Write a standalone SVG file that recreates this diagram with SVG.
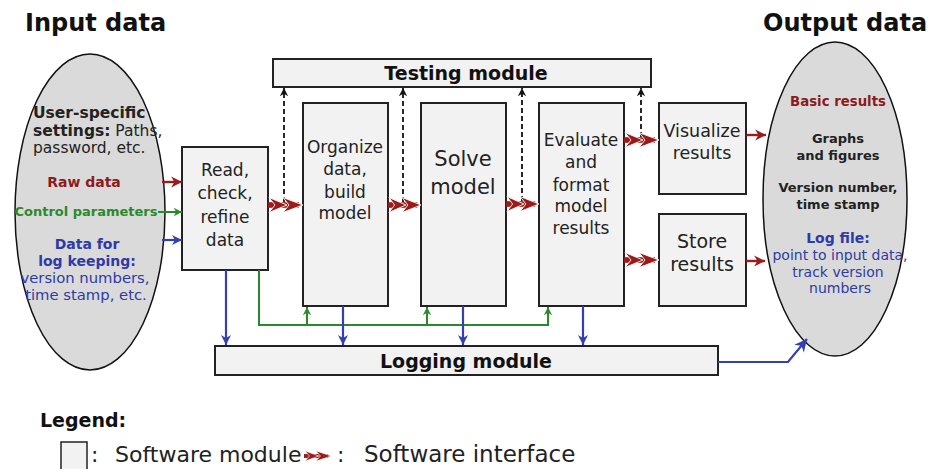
<svg xmlns="http://www.w3.org/2000/svg" width="931" height="469" viewBox="0 0 931 469">
<style>
text{font-family:"DejaVu Sans","Liberation Sans",sans-serif;fill:#222}
.t{font-weight:bold;font-size:24px;fill:#111}
.b{font-weight:bold}
.m{font-size:17px;text-anchor:middle}
.e{font-size:13px;text-anchor:middle}
.n{font-size:14px;text-anchor:middle}
.box{fill:#f2f2f2;stroke:#222;stroke-width:2}
.ell{fill:#dadada;stroke:#111;stroke-width:1.5}
.bl{stroke:#3340b0;stroke-width:2.2;fill:none}
.gl{stroke:#2a8a2a;stroke-width:2;fill:none}
.rl{stroke:#9b1a1a;stroke-width:2.4;fill:none}
.dl{stroke:#111;stroke-width:1.8;stroke-dasharray:5 3;fill:none}
</style>
<defs>
<marker id="aB" viewBox="-11 -6 12 12" refX="0" refY="0" markerWidth="12" markerHeight="12" markerUnits="userSpaceOnUse" orient="auto"><path d="M0,0 L-10,-5 L-7,0 L-10,5 Z" fill="#3340b0"/></marker>
<marker id="aB2" viewBox="-11 -6 12 12" refX="0" refY="0" markerWidth="15" markerHeight="15" markerUnits="userSpaceOnUse" orient="auto"><path d="M0,0 L-10,-5 L-7,0 L-10,5 Z" fill="#3340b0"/></marker>
<marker id="aG" viewBox="-11 -6 12 12" refX="0" refY="0" markerWidth="10" markerHeight="10" markerUnits="userSpaceOnUse" orient="auto"><path d="M0,0 L-10,-5 L-7,0 L-10,5 Z" fill="#2a8a2a"/></marker>
<marker id="aR" viewBox="-11 -6 12 12" refX="0" refY="0" markerWidth="13" markerHeight="13" markerUnits="userSpaceOnUse" orient="auto"><path d="M0,0 L-10,-5 L-7,0 L-10,5 Z" fill="#9b1a1a"/></marker>
<marker id="aK" viewBox="-11 -6 12 12" refX="0" refY="0" markerWidth="10" markerHeight="10" markerUnits="userSpaceOnUse" orient="auto"><path d="M0,0 L-10,-5 L-7,0 L-10,5 Z" fill="#111"/></marker>
<g id="iface">
<rect x="0" y="-2.8" width="31" height="5.6" fill="#9b1a1a"/>
<path d="M1,-7.5 L19,0 L1,7.5 L7,0 Z" fill="#9b1a1a" stroke="#fff" stroke-width="0.9"/>
<path d="M15,-7.5 L35,0 L15,7.5 L21,0 Z" fill="#9b1a1a" stroke="#fff" stroke-width="0.9"/>
</g>
</defs>
<rect width="931" height="469" fill="#fff"/>

<text class="t" x="25" y="31">Input data</text>
<text class="t" x="763" y="31">Output data</text>

<g id="input-data">
<ellipse class="ell" cx="90" cy="212" rx="75" ry="158"/>
<text x="33" y="118" font-size="15.5" class="b">User-specific</text>
<text x="33" y="136" font-size="15.5"><tspan class="b">settings:</tspan> Paths,</text>
<text x="33" y="153" font-size="15.5">password, etc.</text>
<text class="n b" x="84" y="187" style="fill:#8e1b1b">Raw data</text>
<text class="e b" x="86" y="216" style="fill:#2a8a2a">Control parameters</text>
<text class="n b" x="87" y="249" style="fill:#2e3aa5">Data for</text>
<text class="n b" x="87" y="266" style="fill:#2e3aa5">log keeping:</text>
<text class="n" x="85" y="283" style="fill:#2e3aa5;font-size:14.8px">version numbers,</text>
<text class="n" x="86" y="300" style="fill:#2e3aa5;font-size:14.8px">time stamp, etc.</text>
</g>

<g id="output-data">
<ellipse class="ell" cx="835" cy="199" rx="72" ry="157"/>
<text class="e b" x="838" y="106" style="fill:#8e1b1b;font-size:13.3px">Basic results</text>
<text class="e b" x="838" y="143">Graphs</text>
<text class="e b" x="838" y="160">and figures</text>
<text class="e b" x="838" y="192">Version number,</text>
<text class="e b" x="838" y="209">time stamp</text>
<text class="e b" x="838" y="243" style="fill:#2e3aa5;font-size:14px">Log file:</text>
<text class="n" x="840" y="260" style="fill:#2e3aa5">point to input data,</text>
<text class="n" x="838" y="277" style="fill:#2e3aa5">track version</text>
<text class="n" x="840" y="293" style="fill:#2e3aa5">numbers</text>
</g>

<g id="testing-module">
<rect class="box" x="273" y="59" width="378" height="28"/>
<text x="466" y="80" font-size="19" class="b" text-anchor="middle" style="fill:#111">Testing module</text>
</g>

<g id="read">
<rect class="box" x="182" y="147" width="86" height="123"/>
<text class="m" x="225" y="176">Read,</text>
<text class="m" x="225" y="199">check,</text>
<text class="m" x="225" y="223">refine</text>
<text class="m" x="225" y="246">data</text>
</g>

<g id="organize">
<rect class="box" x="303" y="103" width="85" height="203"/>
<text class="m" x="345" y="153">Organize</text>
<text class="m" x="345" y="175">data,</text>
<text class="m" x="345" y="198">build</text>
<text class="m" x="345" y="219">model</text>
</g>

<g id="solve">
<rect class="box" x="421" y="103" width="85" height="203"/>
<text class="m" x="463" y="166" style="font-size:21px">Solve</text>
<text class="m" x="463" y="194" style="font-size:21px">model</text>
</g>

<g id="evaluate">
<rect class="box" x="539" y="103" width="85" height="203"/>
<text class="m" x="581" y="146">Evaluate</text>
<text class="m" x="581" y="168">and</text>
<text class="m" x="581" y="191">format</text>
<text class="m" x="581" y="212">model</text>
<text class="m" x="581" y="234">results</text>
</g>

<g id="visualize">
<rect class="box" x="659" y="103" width="87" height="91"/>
<text class="m" x="702" y="137" style="font-size:17.5px">Visualize</text>
<text class="m" x="702" y="159" style="font-size:17.5px">results</text>
</g>

<g id="store">
<rect class="box" x="659" y="214" width="87" height="92"/>
<text class="m" x="702" y="248" style="font-size:19px">Store</text>
<text class="m" x="702" y="271" style="font-size:19px">results</text>
</g>

<g id="logging-module">
<rect class="box" x="215" y="346" width="503" height="29"/>
<text x="466" y="368" font-size="19" class="b" text-anchor="middle" style="fill:#111">Logging module</text>
</g>

<g id="connectors">
<line class="rl" x1="162" y1="182" x2="182" y2="182" marker-end="url(#aR)"/>
<line class="gl" x1="158" y1="212" x2="182" y2="212" marker-end="url(#aG)"/>
<line class="bl" x1="162" y1="240" x2="182" y2="240" marker-end="url(#aB)"/>

<line class="dl" x1="284" y1="202" x2="284" y2="88" marker-end="url(#aK)"/>
<line class="dl" x1="403" y1="202" x2="403" y2="88" marker-end="url(#aK)"/>
<line class="dl" x1="522" y1="201" x2="522" y2="88" marker-end="url(#aK)"/>
<line class="dl" x1="641" y1="137" x2="641" y2="88" marker-end="url(#aK)"/>

<use href="#iface" transform="translate(268,205)"/>
<use href="#iface" transform="translate(388,205) scale(0.943,1)"/>
<use href="#iface" transform="translate(506,204) scale(0.943,1)"/>
<use href="#iface" transform="translate(624,140)"/>
<use href="#iface" transform="translate(624,260)"/>

<line class="rl" x1="746" y1="135" x2="766" y2="135" marker-end="url(#aR)"/>
<line class="rl" x1="746" y1="261" x2="765" y2="261" marker-end="url(#aR)"/>

<path class="gl" d="M259,270 V325 H548 V307" marker-end="url(#aG)"/>
<line class="gl" x1="307" y1="325" x2="307" y2="307" marker-end="url(#aG)"/>
<line class="gl" x1="427" y1="325" x2="427" y2="307" marker-end="url(#aG)"/>

<line class="bl" x1="226" y1="270" x2="226" y2="345" marker-end="url(#aB)"/>
<line class="bl" x1="343" y1="306" x2="343" y2="345" marker-end="url(#aB)"/>
<line class="bl" x1="463" y1="306" x2="463" y2="345" marker-end="url(#aB)"/>
<line class="bl" x1="583" y1="306" x2="583" y2="345" marker-end="url(#aB)"/>

<path class="bl" d="M718,362 H788 L807,339" marker-end="url(#aB2)"/>
</g>

<g id="legend">
<text x="40" y="427" font-size="19" class="b" style="fill:#111">Legend:</text>
<rect x="61" y="442" width="26" height="28" fill="#f2f2f2" stroke="#222" stroke-width="1.5"/>
<text x="91" y="462" font-size="22">:</text>
<text x="115" y="462" font-size="22">Software module</text>
<use href="#iface" transform="translate(304,456) scale(0.78,0.7)"/>
<text x="337" y="462" font-size="22">:</text>
<text x="364" y="462" font-size="23">Software interface</text>
</g>
</svg>
